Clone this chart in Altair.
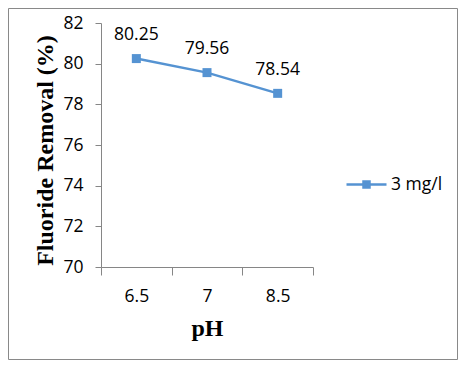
import altair as alt
import pandas as pd

ph_levels = ["6.5", "7", "8.5"]
removal = [80.25, 79.56, 78.54]
series_name = "3 mg/l"
y_ticks = [70, 72, 74, 76, 78, 80, 82]

df = pd.DataFrame({"pH": ph_levels, "removal": removal, "series": [series_name] * 3})
df["label"] = [f"{v:.2f}" for v in removal]

BLUE = "#5593D2"
GRAY = "#868686"
FONT = "Open Sans"
SERIF = "Liberation Serif"

x_enc = alt.X(
    "pH:N",
    sort=ph_levels,
    bandPosition=0.5,
    scale=alt.Scale(type="band", paddingInner=0, paddingOuter=0),
    axis=alt.Axis(
        title="pH",
        titleFont=SERIF,
        titleFontSize=24,
        titleFontWeight="bold",
        titleColor="#000",
        titleX=106,
        titleY=68,
        titleBaseline="alphabetic",
        titleAlign="center",
        labelFont=FONT,
        labelFontSize=17.5,
        labelColor="#000",
        labelAngle=0,
        labelPadding=12,
        tickSize=8,
        tickColor=GRAY,
        domainColor=GRAY,
        tickBand="extent",
        grid=False,
    ),
)
y_enc = alt.Y(
    "removal:Q",
    scale=alt.Scale(domain=[70, 82], nice=False, zero=False),
    axis=alt.Axis(
        values=y_ticks,
        title="Fluoride Removal (%)",
        titleFont=SERIF,
        titleFontSize=24,
        titleFontWeight="bold",
        titleColor="#000",
        titleX=-49,
        titleY=127,
        titleAngle=-90,
        titleBaseline="alphabetic",
        titleAlign="center",
        labelFont=FONT,
        labelFontSize=17.5,
        labelColor="#000",
        labelPadding=12,
        tickSize=6,
        tickColor=GRAY,
        domainColor=GRAY,
        grid=False,
    ),
)

line = alt.Chart(df).mark_line(strokeWidth=2.5).encode(
    x=x_enc,
    y=y_enc,
    color=alt.Color(
        "series:N",
        scale=alt.Scale(domain=[series_name], range=[BLUE]),
        legend=alt.Legend(
            title=None,
            orient="none",
            legendX=244,
            legendY=140,
            padding=0,
            symbolType="M-1,0H1M-0.15,-0.15H0.15V0.15H-0.15Z",
            symbolSize=1600,
            symbolStrokeWidth=2.5,
            symbolFillColor=BLUE,
            labelFont=FONT,
            labelFontSize=17.5,
            labelColor="#000",
            labelOffset=3,
        ),
    ),
)

points = alt.Chart(df).mark_point(
    shape="square", filled=True, size=81, color=BLUE, opacity=1
).encode(x=x_enc, y=y_enc)

labels = alt.Chart(df).mark_text(
    font=FONT, fontSize=17.5, color="#000", baseline="alphabetic", dy=-18.5
).encode(x=x_enc, y=y_enc, text="label:N")

border = alt.Chart(pd.DataFrame({"a": [0]})).mark_rect(
    fill="white", fillOpacity=0, stroke="#898989", strokeWidth=1
).encode(
    x=alt.value(-92.5), x2=alt.value(356.5), y=alt.value(-14.5), y2=alt.value(336.5)
)

chart = (
    alt.layer(border, line, points, labels)
    .properties(
        width=212,
        height=244,
        autosize=alt.AutoSizeParams(type="none"),
        padding={"left": 93, "top": 15, "right": 145, "bottom": 93},
        background="white",
    )
    .configure_view(stroke=None)
)

chart.save("out.html", embed_options={"renderer": "svg", "actions": False})
